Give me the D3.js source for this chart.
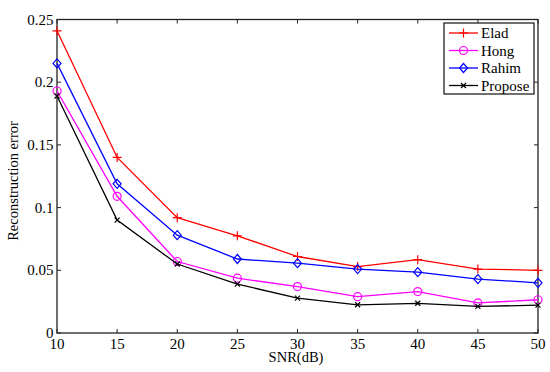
<!DOCTYPE html>
<html>
<head>
<meta charset="utf-8">
<style>
  body { margin: 0; background: #fff; }
</style>
</head>
<body>
<svg id="chart" width="550" height="372" font-family="'Liberation Serif', 'Times New Roman', serif"></svg>
<script src="https://d3js.org/d3.v7.min.js"></script>
<script>
// SNR values on the x axis
var snr = [10, 15, 20, 25, 30, 35, 40, 45, 50];

// reconstruction error per method
var elad    = [0.241, 0.140, 0.092, 0.0775, 0.061, 0.053, 0.0585, 0.051, 0.050];
var hong    = [0.193, 0.109, 0.057, 0.0437, 0.037, 0.029, 0.033, 0.024, 0.0265];
var rahim   = [0.215, 0.119, 0.078, 0.059, 0.0557, 0.051, 0.0485, 0.043, 0.040];
var propose = [0.189, 0.090, 0.055, 0.039, 0.0278, 0.0225, 0.0237, 0.0212, 0.0222];

var xTicks = [10, 15, 20, 25, 30, 35, 40, 45, 50];
var yTicks = [0, 0.05, 0.1, 0.15, 0.2, 0.25];

var series = [
  {name: "Elad",    values: elad,    color: "#ff0000", marker: "plus"},
  {name: "Hong",    values: hong,    color: "#ff00ff", marker: "circle"},
  {name: "Rahim",   values: rahim,   color: "#0000ff", marker: "diamond"},
  {name: "Propose", values: propose, color: "#000000", marker: "cross"}
];

var svg = d3.select("#chart");
// plot box (note: "top" is reserved on window, so use pTop etc.)
var pLeft = 57, pRight = 538, pTop = 19.5, pBottom = 333;

var x = d3.scaleLinear().domain([10, 50]).range([pLeft, pRight]);
var y = d3.scaleLinear().domain([0, 0.25]).range([pBottom, pTop]);

// frame
svg.append("rect")
    .attr("x", pLeft).attr("y", pTop)
    .attr("width", pRight - pLeft).attr("height", pBottom - pTop)
    .attr("fill", "none").attr("stroke", "#222").attr("stroke-width", 1.3);

// ticks point inwards, on all four sides
var tl = 4;
xTicks.forEach(function(t) {
  svg.append("line").attr("x1", x(t)).attr("x2", x(t)).attr("y1", pBottom).attr("y2", pBottom - tl)
     .attr("stroke", "#222").attr("stroke-width", 1);
  svg.append("line").attr("x1", x(t)).attr("x2", x(t)).attr("y1", pTop).attr("y2", pTop + tl)
     .attr("stroke", "#222").attr("stroke-width", 1);
  svg.append("text").attr("x", x(t)).attr("y", pBottom + 15.5)
     .attr("text-anchor", "middle").style("font-size", "15px").text(t);
});
yTicks.forEach(function(t) {
  svg.append("line").attr("x1", pLeft).attr("x2", pLeft + tl).attr("y1", y(t)).attr("y2", y(t))
     .attr("stroke", "#222").attr("stroke-width", 1);
  svg.append("line").attr("x1", pRight).attr("x2", pRight - tl).attr("y1", y(t)).attr("y2", y(t))
     .attr("stroke", "#222").attr("stroke-width", 1);
  svg.append("text").attr("x", pLeft - 3.5).attr("y", y(t) + 5)
     .attr("text-anchor", "end").style("font-size", "15px").text(t);
});

// axis labels
svg.append("text").attr("x", 296).attr("y", 362)
   .attr("text-anchor", "middle").style("font-size", "14.5px").text("SNR(dB)");
svg.append("text")
   .attr("transform", "translate(17.5,181) rotate(-90)")
   .attr("text-anchor", "middle").style("font-size", "14.5px").text("Reconstruction error");

function drawMarker(g, type, cx, cy, color) {
  if (type == "plus") {
    g.append("path").attr("d", "M" + (cx - 4.5) + "," + cy + "H" + (cx + 4.5) + "M" + cx + "," + (cy - 4.5) + "V" + (cy + 4.5))
     .attr("stroke", color).attr("stroke-width", 1.2).attr("fill", "none");
  } else if (type == "circle") {
    g.append("circle").attr("cx", cx).attr("cy", cy).attr("r", 4)
     .attr("stroke", color).attr("stroke-width", 1.2).attr("fill", "none");
  } else if (type == "diamond") {
    g.append("path").attr("d", "M" + cx + "," + (cy - 4.5) + "L" + (cx + 4) + "," + cy + "L" + cx + "," + (cy + 4.5) + "L" + (cx - 4) + "," + cy + "Z")
     .attr("stroke", color).attr("stroke-width", 1.2).attr("fill", "none");
  } else {
    g.append("path").attr("d", "M" + (cx - 2.5) + "," + (cy - 2.5) + "L" + (cx + 2.5) + "," + (cy + 2.5) + "M" + (cx + 2.5) + "," + (cy - 2.5) + "L" + (cx - 2.5) + "," + (cy + 2.5))
     .attr("stroke", color).attr("stroke-width", 1.2).attr("fill", "none");
  }
}

var line = d3.line()
    .x(function(d, i) { return x(snr[i]); })
    .y(function(d) { return y(d); });

series.forEach(function(s) {
  var g = svg.append("g");
  g.append("path").datum(s.values).attr("d", line)
   .attr("fill", "none").attr("stroke", s.color).attr("stroke-width", 1.3);
  s.values.forEach(function(v, i) { drawMarker(g, s.marker, x(snr[i]), y(v), s.color); });
});

// legend
var lg = svg.append("g");
lg.append("rect").attr("x", 444).attr("y", 23).attr("width", 90).attr("height", 71)
  .attr("fill", "#fff").attr("stroke", "#222").attr("stroke-width", 1.3);
series.forEach(function(s, i) {
  var ly = 33 + i * 17.5;
  lg.append("line").attr("x1", 449).attr("x2", 478).attr("y1", ly).attr("y2", ly)
    .attr("stroke", s.color).attr("stroke-width", 1.3);
  drawMarker(lg, s.marker, 463.5, ly, s.color);
  lg.append("text").attr("x", 481).attr("y", ly + 5).style("font-size", "15px").text(s.name);
});
</script>
</body>
</html>
